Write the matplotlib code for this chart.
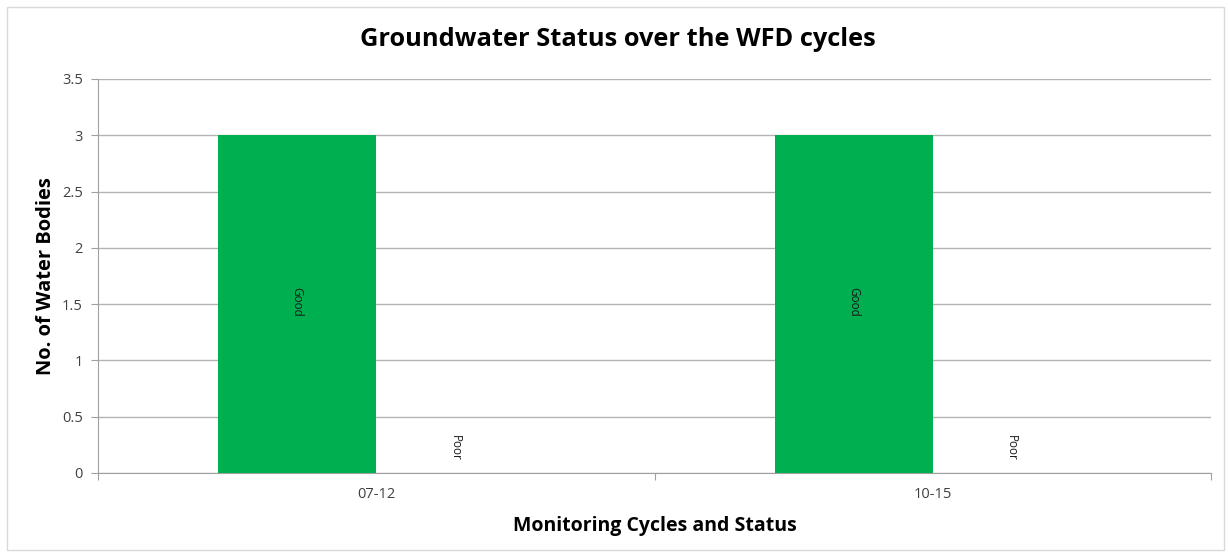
import matplotlib.pyplot as plt
from matplotlib.patches import Rectangle
import numpy as np

cycles = ["07-12", "10-15"]
statuses = ["Good", "Poor"]
good = [3, 3]
poor = [0, 0]

plt.rcParams['font.family'] = ['Open Sans', 'DejaVu Sans']

fig = plt.figure(figsize=(12.28, 5.53), dpi=100)
ax = fig.add_axes([98/1228, 1 - 473/553, (1211 - 98)/1228, (473 - 79)/553])

# chart area border
fig.patches.append(Rectangle((7/1228, 3/553), 1217/1228, 543/553, transform=fig.transFigure,
                             fill=False, edgecolor='#d9d9d9', linewidth=1))

x = np.arange(len(cycles))
w = 0.284
b1 = ax.bar(x - w/2, good, w, color='#00b050', zorder=3)
b2 = ax.bar(x + w/2, poor, w, color='#c00000', zorder=3)

for bars, name in [(b1, statuses[0]), (b2, statuses[1])]:
    for r in bars:
        cx = r.get_x() + r.get_width()/2
        h = r.get_height()
        if h > 0:
            ax.text(cx, h/2 + 0.02, name, rotation=-90, ha='center', va='center', fontsize=8.5, color='#1a1a1a')
        else:
            ax.text(cx, 0.22, name, rotation=-90, ha='center', va='center', fontsize=8.5, color='#1a1a1a')

ax.set_xlim(-0.5, 1.5)
ax.set_ylim(0, 3.5)
ax.set_yticks(np.arange(0, 3.51, 0.5))
ax.set_yticklabels(['0', '0.5', '1', '1.5', '2', '2.5', '3', '3.5'])
ax.yaxis.grid(True, color='#b3b3b3', linewidth=1, zorder=0)
ax.set_axisbelow(True)

ax.set_xticks([-0.5, 0.5, 1.5])
ax.set_xticklabels([])
ax.set_xticks(x, minor=True)
ax.set_xticklabels(cycles, minor=True)
ax.tick_params(axis='x', which='minor', length=0, pad=10, labelsize=10.5, labelcolor='#404040')
ax.tick_params(axis='x', which='major', length=5, color='#a0a0a0', direction='out')
ax.tick_params(axis='y', length=5, color='#a0a0a0', labelsize=10.5, labelcolor='#404040', pad=6)

for s in ['top', 'right']:
    ax.spines[s].set_visible(False)
ax.spines['left'].set_color('#a0a0a0')
ax.spines['bottom'].set_color('#a0a0a0')

fig.suptitle("Groundwater Status over the WFD cycles", x=618/1228, y=1 - 40/553, va='center',
             fontsize=18.3, fontweight='bold')
ax.set_ylabel("No. of Water Bodies", fontsize=14.5, fontweight='bold', labelpad=4)
ax.set_xlabel("Monitoring Cycles and Status", fontsize=14, fontweight='bold', labelpad=10)

fig.savefig("out.png", dpi=100)
